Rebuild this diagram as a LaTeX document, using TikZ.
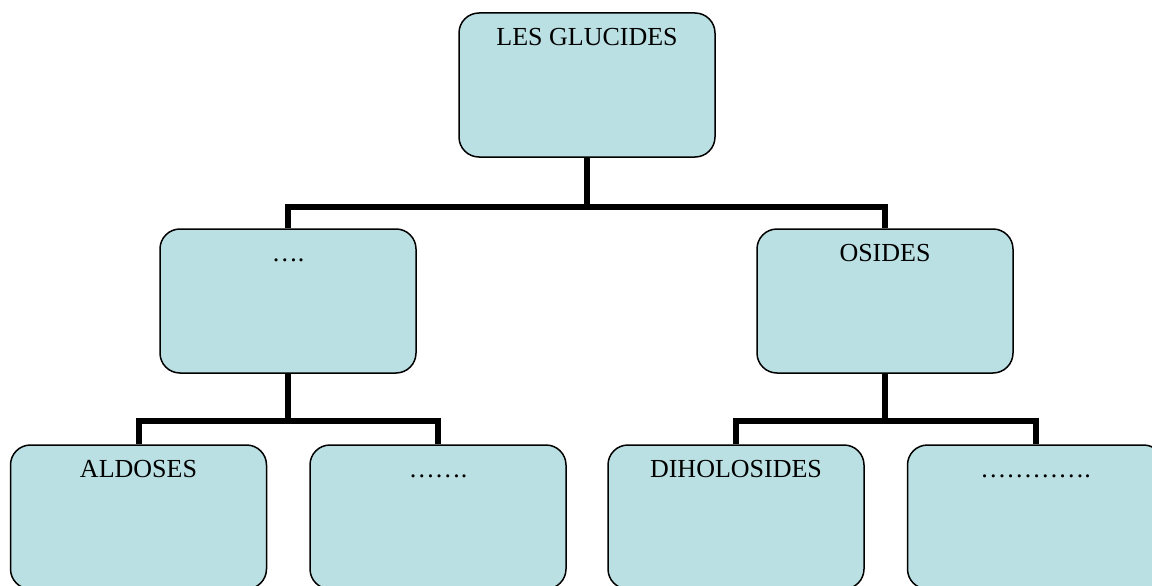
\documentclass[tikz,border=0pt]{standalone}
\usepackage{fontspec}
\setmainfont{Liberation Serif}
\definecolor{boxfill}{RGB}{186,224,227}
\begin{document}
\begin{tikzpicture}[x=1pt,y=-1pt,
  box/.style={draw=black, line width=1.5pt, fill=boxfill, rounded corners=20pt,
    minimum width=256pt, inner xsep=4pt, inner ysep=4pt,
    text height=28.5pt, text depth=107.5pt,
    font=\fontsize{26}{30}\selectfont},
  conn/.style={draw=black, line width=6pt}]
\useasboundingbox (0,0) rectangle (1152,586);
\clip (0,0) rectangle (1152,586);
\node[box] (top) at (587,85) {LES GLUCIDES};
\node[box] (L) at (288,301) {….};
\node[box] (R) at (885,301) {OSIDES};
\node[box] (b1) at (138.5,517) {ALDOSES};
\node[box] (b2) at (438,517) {…….};
\node[box] (b3) at (736,517) {DIHOLOSIDES};
\node[box] (b4) at (1035.5,517) {………….};
\coordinate (j1) at (587,207);
\coordinate (j2) at (288,421);
\coordinate (j3) at (885,421);
\draw[conn] (top.south) -- (j1);
\draw[conn] (L.north) |- (j1) -| (R.north);
\draw[conn] (L.south) -- (j2);
\draw[conn] (b1.north) |- (j2) -| (b2.north);
\draw[conn] (R.south) -- (j3);
\draw[conn] (b3.north) |- (j3) -| (b4.north);
\end{tikzpicture}
\end{document}
